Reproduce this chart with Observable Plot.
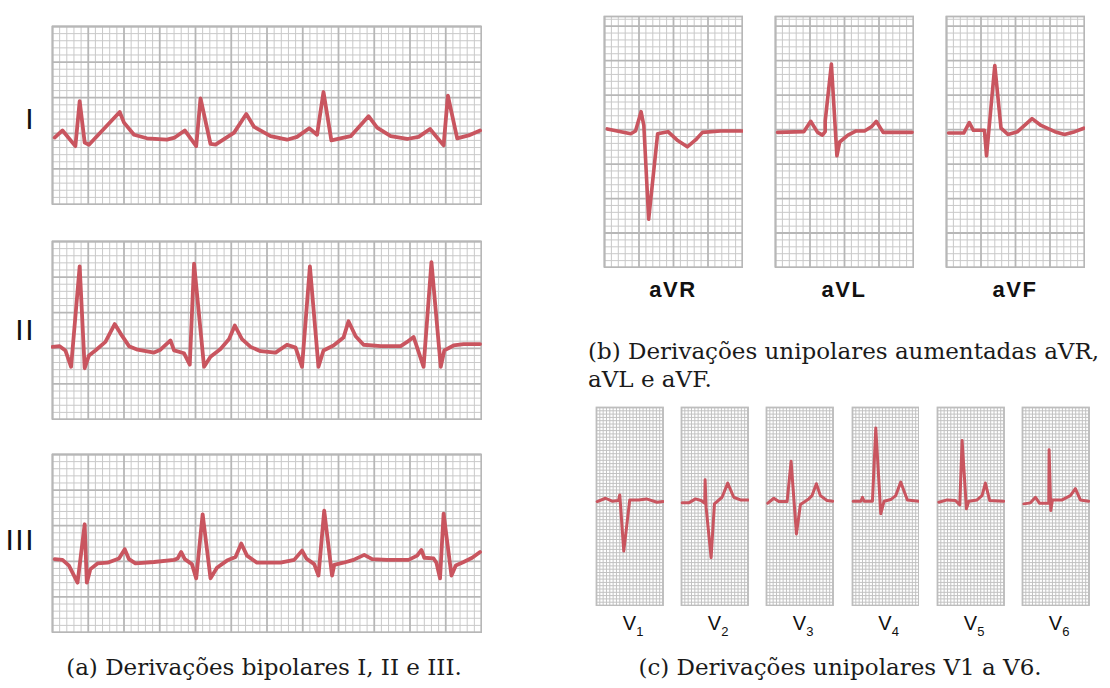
<!DOCTYPE html>
<html><head><meta charset="utf-8">
<script src="https://cdn.jsdelivr.net/npm/d3@7"></script>
<script src="https://cdn.jsdelivr.net/npm/@observablehq/plot@0.6"></script>
<style>
body{margin:0;background:#fff;}
#fig{position:relative;width:1110px;height:688px;overflow:hidden;background:#fff;}
#fig svg{position:absolute;}
</style></head><body><div id="fig"></div>
<script>
// ---- Data: ECG traces in grid units [time (small squares), amplitude (small squares from bottom)] ----
const leadI = [[0.3,9.4],[1.4,10.4],[3.2,8.2],[3.8,14.5],[4.5,8.7],[5.1,8.4],[9.4,13.0],[10.0,11.5],[11.4,9.8],[13.2,9.3],[16.0,9.1],[17.1,9.4],[18.5,10.4],[20.1,8.2],[20.7,14.9],[22.1,8.5],[22.8,8.4],[25.4,10.1],[27.1,12.7],[28.2,10.9],[30.5,9.6],[32.8,9.1],[34.2,9.5],[35.9,10.7],[37.0,9.8],[37.9,15.8],[39.0,9.0],[41.7,9.6],[44.2,12.4],[45.4,10.8],[47.3,9.6],[49.6,9.2],[51.2,9.5],[52.8,10.6],[54.7,8.3],[55.3,15.3],[56.6,9.3],[58.2,9.7],[59.8,10.4]];
const leadII = [[0.0,10.2],[1.0,10.3],[1.8,9.7],[2.6,7.4],[3.8,21.5],[4.5,7.2],[5.1,9.0],[6.0,9.7],[7.4,10.9],[8.7,13.4],[9.5,12.1],[10.7,10.3],[11.9,9.8],[14.2,9.4],[15.1,9.8],[16.5,11.1],[17.0,9.7],[18.4,9.3],[19.2,7.7],[19.8,21.9],[21.2,7.4],[22.1,8.8],[23.5,9.9],[24.7,11.3],[25.5,13.2],[26.5,11.3],[27.7,10.2],[29.1,9.6],[31.2,9.4],[32.8,10.5],[34.0,10.1],[34.9,7.4],[36.0,21.5],[37.2,7.4],[37.9,9.7],[39.3,10.4],[40.7,11.5],[41.4,13.8],[42.4,11.7],[43.5,10.5],[45.9,10.3],[48.7,10.3],[49.6,10.9],[50.5,11.6],[51.9,7.4],[53.0,22.1],[54.3,7.4],[54.8,9.7],[56.1,10.4],[57.5,10.6],[59.8,10.6]];
const leadIII = [[0.3,10.3],[1.4,10.2],[2.3,9.4],[3.5,7.0],[4.5,15.2],[4.8,7.0],[5.3,8.9],[6.3,9.7],[7.7,9.8],[9.3,10.4],[10.1,11.7],[10.7,10.3],[11.6,9.7],[14.2,9.9],[17.0,10.2],[17.5,10.4],[18.0,11.3],[18.5,10.3],[19.5,9.6],[20.1,7.6],[21.0,16.6],[22.1,7.6],[23.0,9.1],[24.4,10.1],[25.6,10.6],[26.4,12.5],[27.2,10.8],[28.6,9.8],[31.9,9.8],[33.8,10.2],[34.9,11.5],[35.5,10.4],[36.6,9.6],[37.2,8.0],[38.0,17.1],[39.1,8.0],[39.4,9.5],[40.7,9.8],[42.1,10.2],[43.6,10.9],[44.7,10.3],[46.8,10.2],[49.8,10.2],[51.0,10.8],[51.6,11.6],[52.0,10.5],[53.3,10.4],[53.7,9.8],[54.2,7.6],[54.7,16.7],[55.8,8.0],[56.4,9.4],[57.5,9.9],[58.7,10.5],[59.8,11.3]];

const aVR = [[0.4,20.1],[3.8,19.4],[4.5,19.8],[5.3,22.6],[5.7,20.6],[6.4,7.0],[7.7,19.4],[9.2,19.7],[10.5,18.5],[12.0,17.5],[13.2,18.5],[14.2,19.6],[16.8,19.8],[20.0,19.8]];
const aVL = [[0.3,19.6],[4.1,19.7],[5.1,21.2],[6.1,19.6],[6.8,19.2],[7.2,19.7],[7.2,21.2],[8.1,29.5],[8.9,16.2],[9.3,18.2],[10.5,19.2],[11.7,19.8],[12.9,19.8],[13.9,20.4],[14.6,21.2],[15.6,19.6],[17.3,19.6],[19.8,19.6]];
const aVF = [[0.3,19.5],[2.5,19.5],[3.3,21.0],[3.9,19.9],[5.5,19.9],[5.8,16.2],[7.0,29.3],[7.9,20.2],[8.9,19.3],[10.3,19.7],[12.4,21.6],[13.7,20.6],[15.7,19.7],[17.1,19.3],[18.6,19.7],[19.9,20.2]];

const V1 = [[0.2,31.5],[2.7,32.5],[4.7,31.6],[6.6,31.8],[7.0,33.5],[8.2,16.5],[10.0,32.0],[12.7,32.0],[15.0,32.3],[18.2,31.3],[20.0,31.5]];
const V2 = [[0.2,31.1],[2.2,31.1],[4.2,32.3],[5.9,31.8],[7.0,31.0],[7.1,38.1],[7.4,29.8],[8.9,14.5],[9.9,30.8],[12.2,32.8],[13.9,37.1],[15.7,32.8],[17.7,32.0],[20.0,32.0]];
const V3 = [[0.4,31.0],[2.2,32.5],[3.7,31.5],[6.2,31.5],[7.4,43.7],[9.0,21.7],[10.2,30.6],[12.7,32.3],[13.7,33.3],[15.0,36.9],[16.2,33.3],[18.2,31.8],[19.9,31.6]];
const V4 = [[0.2,31.6],[2.5,31.6],[3.0,32.8],[3.5,31.6],[6.0,31.6],[7.0,53.8],[8.5,27.8],[9.5,31.6],[11.5,32.1],[13.0,33.3],[14.5,37.4],[16.5,32.0],[20.0,31.6]];
const V5 = [[0.4,31.3],[2.9,32.0],[5.4,31.8],[6.7,30.5],[7.4,50.0],[8.7,29.3],[9.4,31.6],[11.9,32.0],[13.4,33.3],[14.4,37.1],[15.7,31.8],[19.9,31.6]];
const V6 = [[0.4,30.8],[2.4,31.1],[3.9,32.8],[5.1,31.0],[7.9,31.0],[8.0,47.2],[8.5,28.8],[9.0,32.0],[11.9,32.0],[14.4,33.3],[15.9,35.4],[17.4,32.0],[19.9,31.6]];

const bipolarLabels = ["I", "II", "III"];
const augmentedLabels = ["aVR", "aVL", "aVF"];
const precordialLabels = ["1", "2", "3", "4", "5", "6"];
const captions = {
  a: "(a) Derivações bipolares I, II e III.",
  b1: "(b) Derivações unipolares aumentadas aVR,",
  b2: "aVL e aVF.",
  c: "(c) Derivações unipolares V1 a V6."
};

// ---- Drawing ----
const fig = document.getElementById("fig");
const ECG = "#c9555f";

function strip(data, o) {
  const xs = d3.range(0, o.cols + 1);
  const ys = d3.range(0, Math.floor(o.rows) + 1);
  const marks = [];
  if (o.major) {
    marks.push(Plot.ruleX(xs.filter(i => i % o.major), {stroke: o.minor, strokeWidth: 1}));
    marks.push(Plot.ruleY(ys.filter(i => i % o.major), {stroke: o.minor, strokeWidth: 1}));
    marks.push(Plot.ruleX(xs.filter(i => i % o.major === 0), {stroke: o.majorC, strokeWidth: 1.8}));
    marks.push(Plot.ruleY(ys.filter(i => i % o.major === 0), {stroke: o.majorC, strokeWidth: 1.8}));
  } else {
    marks.push(Plot.ruleX(xs, {stroke: o.minor, strokeWidth: 1}));
    marks.push(Plot.ruleY(ys, {stroke: o.minor, strokeWidth: 1}));
  }
  marks.push(Plot.frame({stroke: o.majorC, strokeWidth: 1.8}));
  marks.push(Plot.line(data, {x: d => d[0], y: d => d[1], stroke: ECG, strokeWidth: o.sw, strokeLinejoin: "round", strokeLinecap: "round"}));
  const svg = Plot.plot({
    width: o.w + 2, height: o.h + 2, margin: 1,
    x: {domain: [0, o.cols], axis: null},
    y: {domain: [0, o.rows], axis: null},
    style: {background: "transparent"},
    marks
  });
  svg.style.left = (o.left - 1) + "px";
  svg.style.top = (o.top - 1) + "px";
  fig.appendChild(svg);
}

// (a) bipolar leads
[leadI, leadII, leadIII].forEach((d, i) => strip(d, {
  cols: 60, rows: 25, major: 5, w: 429, h: 178, left: 52, top: [26, 241, 454][i],
  sw: 3.8, minor: "#c9c9c9", majorC: "#b7b7b7"
}));
// (b) augmented leads
[aVR, aVL, aVF].forEach((d, i) => strip(d, {
  cols: 20, rows: 36.4, major: 5, w: 138, h: 251, left: [604, 775, 946][i], top: 16,
  sw: 3.6, minor: "#c9c9c9", majorC: "#b7b7b7"
}));
// (c) precordial leads
const vLefts = [596, 681, 766, 851.5, 937, 1022];
[V1, V2, V3, V4, V5, V6].forEach((d, i) => strip(d, {
  cols: 20, rows: 60, major: 0, w: 66.5, h: 198, left: vLefts[i], top: 407,
  sw: 3.0, minor: "#c2c2c2", majorC: "#bdbdbd"
}));

// ---- Text overlay ----
const ov = d3.select(fig).append("svg").attr("width", 1110).attr("height", 688)
  .style("left", "0px").style("top", "0px");
const sans = "'Liberation Sans', Arial, Helvetica, sans-serif";
const serif = "'DejaVu Serif', 'Liberation Serif', serif";

bipolarLabels.forEach((t, i) => ov.append("text").text(t)
  .attr("x", 35).attr("y", [129, 340, 550][i]).attr("text-anchor", "end")
  .attr("font-family", sans).attr("font-size", 30).attr("letter-spacing", 1.5).attr("fill", "#111"));

augmentedLabels.forEach((t, i) => ov.append("text").text(t)
  .attr("x", [673, 844, 1015][i]).attr("y", 297).attr("text-anchor", "middle")
  .attr("font-family", sans).attr("font-weight", "bold").attr("font-size", 22)
  .attr("letter-spacing", 1.5).attr("fill", "#111"));

precordialLabels.forEach((t, i) => {
  const cx = vLefts[i] + 33.3;
  ov.append("text").text("V").attr("x", cx).attr("y", 630).attr("text-anchor", "middle")
    .attr("font-family", sans).attr("font-size", 20).attr("fill", "#111");
  ov.append("text").text(t).attr("x", cx + 7).attr("y", 636)
    .attr("font-family", sans).attr("font-size", 13).attr("fill", "#111");
});

function cap(t, x, y, anchor) {
  return ov.append("text").text(t).attr("x", x).attr("y", y).attr("text-anchor", anchor)
    .attr("font-family", serif).attr("font-size", 23).attr("fill", "#1a1a1a");
}
cap(captions.a, 264, 675, "middle");
cap(captions.b1, 588, 359, "start");
cap(captions.b2, 588, 387, "start");
cap(captions.c, 840, 675, "middle");
</script></body></html>
